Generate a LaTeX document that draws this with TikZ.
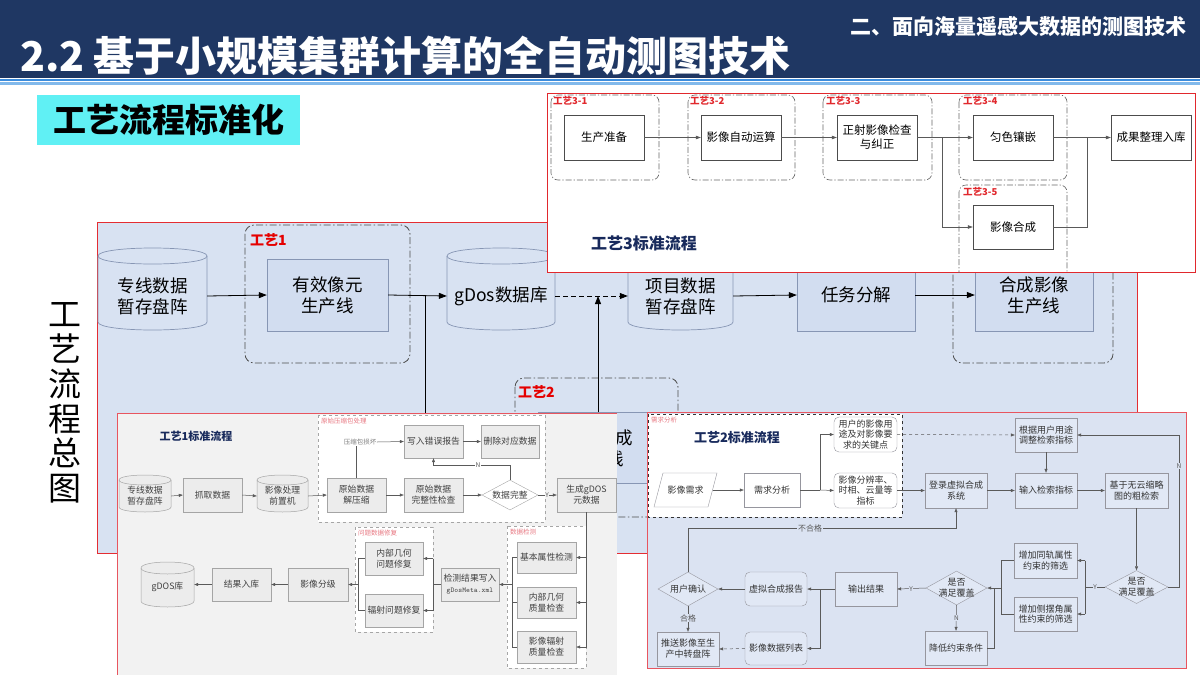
\documentclass[tikz,border=0pt]{standalone}
\usepackage{fontspec}
\setmainfont{Noto Sans CJK SC}
\usetikzlibrary{arrows.meta,shapes.geometric}
\definecolor{navy}{RGB}{31,55,99}
\definecolor{stripeA}{RGB}{60,140,220}
\definecolor{stripeB}{RGB}{130,185,235}
\definecolor{cyanbox}{RGB}{96,240,244}
\definecolor{mainbg}{RGB}{216,226,242}
\definecolor{mainred}{RGB}{228,45,50}
\definecolor{mborder}{RGB}{135,150,180}
\definecolor{mfill}{RGB}{210,221,240}
\definecolor{titnavy}{RGB}{24,42,92}
\definecolor{lbg}{RGB}{242,242,242}
\definecolor{lfill}{RGB}{236,236,236}
\definecolor{lborder}{RGB}{165,165,165}
\definecolor{pinklab}{RGB}{232,120,130}
\definecolor{rbg}{RGB}{219,227,242}
\definecolor{rfill}{RGB}{225,232,245}
\definecolor{rborder}{RGB}{150,150,158}
\definecolor{insetred}{RGB}{232,85,95}
\definecolor{topred}{RGB}{225,40,45}
\definecolor{lnk}{RGB}{90,90,90}

% cylinder: x1 ytop x2 ybottom ry style
\newcommand\mycyl[6]{%
 \pgfmathsetmacro\cylTa{#2+#5}\pgfmathsetmacro\cylTb{#4-#5}%
 \pgfmathsetmacro\cylTc{#4+#5/3}\pgfmathsetmacro\cylTd{#2-#5/3}%
 \pgfmathsetmacro\cylTe{#2+7*#5/3}%
 \path[#6] (#1,\cylTa) -- (#1,\cylTb) .. controls (#1,\cylTc) and (#3,\cylTc) .. (#3,\cylTb) -- (#3,\cylTa) .. controls (#3,\cylTd) and (#1,\cylTd) .. (#1,\cylTa) -- cycle;
 \draw[#6,fill=none] (#1,\cylTa) .. controls (#1,\cylTe) and (#3,\cylTe) .. (#3,\cylTa);}

\begin{document}
\begin{tikzpicture}[x=1pt,y=-1pt,
 mbox/.style={draw=mborder, fill=mfill, minimum width=121, minimum height=72, align=center, inner sep=1, font=\fontsize{17.5}{21}\selectfont},
 mtxt/.style={align=center, inner sep=0, font=\fontsize{17.5}{21}\selectfont},
 mcyl/.style={draw=mborder, fill=mainbg, line width=0.7pt},
 grp/.style={draw=black!70, dash pattern=on 7pt off 2.5pt on 1.5pt off 2.5pt, rounded corners=9pt, line width=0.8pt},
 glab/.style={text=red!90!black, font=\bfseries\fontsize{14}{14}\selectfont, anchor=west, inner sep=0},
 marr/.style={-{Triangle[length=8pt,width=6pt]}, line width=0.8pt},
 mline/.style={line width=0.8pt},
 tbox/.style={draw=gray!60!black, fill=white, minimum width=80, minimum height=45, align=center, inner sep=1, font=\fontsize{11.5}{14}\selectfont},
 tgrp/.style={draw=gray!80!black, dash pattern=on 6pt off 2pt on 1.2pt off 2pt, rounded corners=7pt, line width=0.6pt},
 tlab/.style={text=topred, font=\bfseries\fontsize{9.5}{10}\selectfont, anchor=west, inner sep=0},
 tarr/.style={-{Triangle[length=5pt,width=3.5pt]}, draw=gray!70!black, line width=0.6pt},
 tline/.style={draw=gray!70!black, line width=0.6pt},
 lbox/.style={draw=lborder, fill=lfill, minimum width=59, minimum height=34, align=center, inner sep=0.5, font=\fontsize{8.8}{11}\selectfont, text=black!75},
 ltxt/.style={align=center, inner sep=0, font=\fontsize{8.8}{11}\selectfont, text=black!75},
 lcyl/.style={draw=lborder, fill=lfill, line width=0.5pt},
 lgrp/.style={draw=gray!70, dashed, fill=white, line width=0.6pt},
 llab/.style={text=pinklab, font=\fontsize{6.5}{7}\selectfont, anchor=west, inner sep=0},
 larr/.style={-{Triangle[length=4pt,width=3pt]}, draw=lnk, line width=0.5pt},
 lline/.style={draw=lnk, line width=0.5pt},
 rbox/.style={draw=rborder, fill=rfill, minimum width=62, minimum height=34, align=center, inner sep=0.5, font=\fontsize{9}{10.8}\selectfont, text=black!80},
 rround/.style={rbox, rounded corners=5pt},
 rtxt/.style={align=center, inner sep=0, font=\fontsize{9}{10.8}\selectfont, text=black!80},
 rarr/.style={-{Triangle[length=4pt,width=3pt]}, draw=lnk, line width=0.5pt},
 rline/.style={draw=lnk, line width=0.5pt},
 ylab/.style={font=\fontsize{6.5}{7}\selectfont, text=lnk, fill=rbg, inner sep=0.6pt},
 navytitle/.style={text=titnavy, font=\bfseries#1, inner sep=0}
]
\useasboundingbox (0,0) rectangle (1200,675);
\fill[white] (0,0) rectangle (1200,675);

% ---------- title bar ----------
\fill[navy] (0,0) rectangle (1200,78);
\fill[stripeA] (0,78.5) rectangle (1200,80.5);
\fill[stripeB] (0,82) rectangle (1200,84.5);
\node[anchor=base west, text=white, inner sep=0, font=\bfseries\fontsize{41}{42}\selectfont] (title) at (20,71) {2.2 基于小规模集群计算的全自动测图技术};
\node[anchor=east, text=white, inner sep=0, font=\bfseries\fontsize{21}{22}\selectfont] (sub) at (1187,27) {二、面向海量遥感大数据的测图技术};

\node[fill=cyanbox, minimum width=263, minimum height=50, inner sep=0, font=\bfseries\fontsize{33}{34}\selectfont] (std) at (168.5,120) {工艺流程标准化};

\node[align=center, inner sep=0, font=\fontsize{33}{34.8}\selectfont] (vt) at (65,403) {工\\艺\\流\\程\\总\\图};

% ---------- main overview ----------
\draw[mainred, fill=mainbg, line width=0.8pt] (97,222) rectangle (1137,553);
\draw[grp] (245,225) rectangle (410,363);
\node[glab] (g1l) at (250,240) {工艺1};
\draw[grp] (515,378) rectangle (678,517);
\node[glab] (g2l) at (518,392) {工艺2};
\draw[grp] (953,225) rectangle (1113,363);

\mycyl{98}{248}{207}{330}{8}{mcyl}
\node[mtxt, minimum width=109, minimum height=66] (cA) at (152.5,296) {专线数据\\暂存盘阵};
\mycyl{447}{248}{555}{330}{8}{mcyl}
\node[mtxt, minimum width=108, minimum height=66] (cB) at (501,296) {gDos数据库};
\mycyl{628}{248}{733}{330}{8}{mcyl}
\node[mtxt, minimum width=105, minimum height=66] (cC) at (680.5,296) {项目数据\\暂存盘阵};
\node[mbox] (pA) at (327.5,295) {有效像元\\生产线};
\node[mbox, minimum width=118] (pC) at (856,295) {任务分解};
\node[mbox, minimum width=118] (pD) at (1034,295) {合成影像\\生产线};
\node[mbox, minimum width=120, minimum height=71] (pB) at (598,448) {影像合成\\生产线};

\coordinate (j1) at (425,295);
\coordinate (jd1) at (425,420);
\draw[marr] (cA.east) -- (pA.west);
\draw[marr] (pA.east) -- (cB.west);
\draw[mline] (j1) -- (jd1);
\draw[marr, dash pattern=on 5pt off 3pt] (cB.east) -- (cC.west);
\draw[marr] (pB.north) -- (pB.north |- cB.east);
\draw[marr] (cC.east) -- (pC.west);
\draw[marr] (pC.east) -- (pD.west);

% ---------- inset: process 3 ----------
\draw[topred, fill=white, line width=1pt] (547,93) rectangle (1195,272);
\begin{scope}
\clip (547,93) rectangle (1195,272);
\draw[tgrp] (551,95) rectangle (659,180);
\draw[tgrp] (688,95) rectangle (795,180);
\draw[tgrp] (823,95) rectangle (932,180);
\draw[tgrp] (959,95) rectangle (1067,180);
\draw[tgrp] (959,185) rectangle (1067,280);
\end{scope}
\node[tlab] (t1l) at (553,101) {工艺3-1};
\node[tlab] (t2l) at (690,101) {工艺3-2};
\node[tlab] (t3l) at (826,101) {工艺3-3};
\node[tlab] (t4l) at (963,101) {工艺3-4};
\node[tlab] (t5l) at (963,192) {工艺3-5};
\node[tbox] (s1) at (604,137.5) {生产准备};
\node[tbox] (s2) at (741,137.5) {影像自动运算};
\node[tbox] (s3) at (877,137.5) {正射影像检查\\与纠正};
\node[tbox] (s4) at (1013,137.5) {匀色镶嵌};
\node[tbox] (s5) at (1151,137.5) {成果整理入库};
\node[tbox, minimum height=44] (s6) at (1013,227) {影像合成};
\coordinate (tx1) at (942,0);
\coordinate (tx2) at (1087,0);
\draw[tarr] (s1.east) -- (s2.west);
\draw[tarr] (s2.east) -- (s3.west);
\draw[tarr] (s3.east) -- (s4.west);
\draw[tarr] (s3.east -| tx1) |- (s6.west);
\draw[tarr] (s4.east) -- (s5.west);
\draw[tline] (s6.east) -| (s5.west -| tx2);
\node[navytitle=\fontsize{16}{16}\selectfont] (t3t) at (644,243) {工艺3标准流程};

% ---------- inset: process 1 ----------
\fill[lbg] (117,413) rectangle (617,675);
\draw[insetred, line width=0.8pt] (117,675) -- (117,413) -- (617,413);
\node[navytitle=\fontsize{11}{11}\selectfont] (t1t) at (196,436) {工艺1标准流程};
\draw[lgrp] (318,415) rectangle (545,522);
\node[llab] (lg1) at (321,421) {原始压缩包处理};
\draw[lgrp] (507,526) rectangle (586,668);
\node[llab] (lg2) at (510,532) {数据检测};
\draw[lgrp] (355,527) rectangle (433,632);
\node[llab] (lg3) at (358,533) {问题数据修复};

\mycyl{119}{475}{171}{512}{5}{lcyl}
\node[ltxt, minimum width=52, minimum height=30] (lc1) at (145,496) {专线数据\\暂存盘阵};
\node[lbox] (l1) at (212.5,495) {抓取数据};
\mycyl{257}{475}{308}{512}{5}{lcyl}
\node[ltxt, minimum width=51, minimum height=30] (lc2) at (282.5,496) {影像处理\\前置机};
\node[lbox] (l2) at (356.5,495) {原始数据\\解压缩};
\node[lbox] (l3) at (433.5,495) {原始数据\\完整性检查};
\node[diamond, draw=lborder, fill=white, inner sep=0, minimum width=56, minimum height=30] (ld) at (510,495) {};
\node[ltxt] (ldt) at (ld) {数据完整};
\node[lbox, minimum height=33] (l4) at (433.5,441.5) {写入错误报告};
\node[lbox, minimum height=33, minimum width=58] (l5) at (510,441.5) {删除对应数据};
\node[inner sep=0.5, text=gray, font=\fontsize{6.5}{7}\selectfont] (lt) at (360,442) {压缩包损坏};
\node[lbox] (l6) at (586.5,495) {生成gDOS\\元数据};
\node[lbox, minimum height=31] (l7) at (546.5,557.5) {基本属性检测};
\node[lbox, minimum height=31] (l8) at (546.5,602.5) {内部几何\\质量检查};
\node[lbox, minimum height=32] (l9) at (546.5,647) {影像辐射\\质量检查};
\node[lbox, minimum width=58, minimum height=33] (l10) at (470,584.5) {检测结果写入\\{\ttfamily\fontsize{7.3}{9}\selectfont gDosMeta.xml}};
\node[lbox, minimum width=58, minimum height=33] (l11) at (394,558.5) {内部几何\\问题修复};
\node[lbox, minimum width=58, minimum height=33] (l12) at (394,610.5) {辐射问题修复};
\node[lbox, minimum width=60, minimum height=33] (l13) at (318,584.5) {影像分级};
\node[lbox, minimum height=33] (l14) at (241.5,584.5) {结果入库};
\mycyl{141}{562}{194}{607}{6}{lcyl}
\node[ltxt, minimum width=53, minimum height=34] (lc3) at (167.5,587) {gDOS库};

\draw[larr] (lc1.east) -- (l1.west);
\draw[larr] (l1.east) -- (lc2.west);
\draw[larr] (lc2.east) -- (l2.west);
\draw[larr] (l2.east) -- (l3.west);
\draw[larr] (l3.east) -- (ld.west);
\draw[larr] (l4.east) -- (l5.west);
\draw[lline] (l2.north) -- (l2.north |- lt.south);
\draw[larr] (lt.east) -- (l4.west);
\draw[larr] (ld.north) -- ++(0,-15) -| (l4.south);
\node[ylab, fill=white] (ln1) at (478,465) {N};
\draw[larr] (ld.east) -- (l6.west);
\node[ylab, fill=lbg] (ly1) at (547,495) {Y};
\draw[lline] (l6.south) -- (l6.south |- l9.east);
\draw[larr] (l6.south |- l7.east) -- (l7.east);
\draw[larr] (l6.south |- l8.east) -- (l8.east);
\draw[larr] (l6.south |- l9.east) -- (l9.east);
\coordinate (lx1) at (512,0);
\coordinate (lx2) at (433,0);
\coordinate (lx3) at (358,0);
\draw[lline] (l7.west) -- (l7.west -| lx1) -- (l9.west -| lx1) -- (l9.west);
\draw[lline] (l8.west) -- (l8.west -| lx1);
\draw[larr] (l10.east -| lx1) -- (l10.east);
\draw[lline] (l10.west) -- (l10.west -| lx2);
\draw[lline] (l11.east -| lx2) -- (l12.east -| lx2);
\draw[larr] (l11.east -| lx2) -- (l11.east);
\draw[larr] (l12.east -| lx2) -- (l12.east);
\draw[lline] (l11.west) -- (l11.west -| lx3) -- (l12.west -| lx3) -- (l12.west);
\draw[larr] (l13.east -| lx3) -- (l13.east);
\draw[larr] (l13.west) -- (l14.east);
\draw[larr] (l14.west) -- (lc3.east |- l14.west);

% ---------- inset: process 2 ----------
\draw[insetred, fill=rbg, line width=0.8pt] (647,412) rectangle (1186,668);
\draw[lgrp, draw=gray!40!black] (648,414) rectangle (902,517);
\node[llab] (rg1) at (651,420) {需求分析};
\node[navytitle=\fontsize{13}{13}\selectfont] (t2t) at (737,438) {工艺2标准流程};

\draw[draw=rborder, fill=white] (663,473) -- (717,473) -- (708,507) -- (654,507) -- cycle;
\node[rtxt, minimum width=54, minimum height=34] (r1) at (685.5,490) {影像需求};
\node[rbox, minimum width=56, fill=white] (r2) at (772,490) {需求分析};
\node[rround, minimum width=63, minimum height=35, fill=white] (r3) at (865.5,434.5) {用户的影像用\\途及对影像要\\求的关键点};
\node[rround, minimum width=63, minimum height=35, fill=white] (r4) at (865.5,490.5) {影像分辨率、\\时相、云量等\\指标};
\node[rbox] (r5) at (1046,435) {根据用户用途\\调整检索指标};
\node[rbox, minimum height=35] (r6) at (956,490.5) {登录虚拟合成\\系统};
\node[rbox, minimum height=35] (r7) at (1046,490.5) {输入检索指标};
\node[rbox, minimum width=63, minimum height=35] (r8) at (1136.5,490.5) {基于无云缩略\\图的粗检索};
\node[diamond, draw=rborder, fill=rfill, inner sep=0, minimum width=63, minimum height=33] (rd1) at (1136.5,587) {};
\node[rtxt] (rd1t) at (rd1) {是否\\满足覆盖};
\node[rbox, minimum width=63, minimum height=35] (r9) at (1045.5,560.5) {增加同轨属性\\约束的筛选};
\node[rbox, minimum width=63, minimum height=34] (r10) at (1045.5,614) {增加侧摆角属\\性约束的筛选};
\node[diamond, draw=rborder, fill=rfill, inner sep=0, minimum width=61, minimum height=34] (rd2) at (956.5,588) {};
\node[rtxt] (rd2t) at (rd2) {是否\\满足覆盖};
\node[rbox] (r11) at (956,648) {降低约束条件};
\node[rbox] (r12) at (866,589) {输出结果};
\node[rround] (r13) at (776,589) {虚拟合成报告};
\node[rround, minimum height=33] (r14) at (776,648.5) {影像数据列表};
\node[diamond, draw=rborder, fill=rfill, inner sep=0, minimum width=60, minimum height=34] (rd3) at (688,589) {};
\node[rtxt] (rd3t) at (rd3) {用户确认};
\node[rbox, minimum height=34] (r15) at (688,649) {推送影像至生\\产中转盘阵};

\coordinate (rx1) at (820,0);
\coordinate (rx2) at (1179,0);
\coordinate (rx3) at (1085,0);
\coordinate (rx4) at (1001,0);
\coordinate (rx5) at (994,0);
\coordinate (ry1) at (0,528);
\draw[rarr] (r1.east) -- (r2.west);
\draw[rline] (r2.east) -- (r2.east -| rx1);
\draw[rarr] (r2.east -| rx1) |- (r3.west);
\draw[rarr] (r2.east -| rx1) -- (r4.west);
\draw[rarr, dashed] (r3.east) -- (r5.west);
\draw[rarr] (r4.east) -- (r6.west);
\draw[rarr] (r6.east) -- (r7.west);
\draw[rarr] (r5.south) -- (r7.north);
\draw[rarr] (r7.east) -- (r8.west);
\draw[rarr] (r8.south) -- (rd1.north);
\draw[rarr] (rd1.east) -- (rd1.east -| rx2) |- (r5.east);
\node[ylab] (rn1) at (1179,466) {N};
\draw[rline] (rd1.west) -- (rd1.west -| rx3);
\node[ylab] (ry1l) at (1095,587) {Y};
\draw[rline] (r9.east -| rx3) -- (r10.east -| rx3);
\draw[rarr] (r9.east -| rx3) -- (r9.east);
\draw[rarr] (r10.east -| rx3) -- (r10.east);
\draw[rline] (r9.west) -- (r9.west -| rx4) -- (r10.west -| rx4) -- (r10.west);
\draw[rarr] (rd2.east -| rx4) -- (rd2.east);
\draw[rline] (r11.east) -- (r11.east -| rx5) -- (rd2.east -| rx5);
\draw[rarr] (rd2.south) -- (r11.north);
\node[ylab] (rn2) at (956.5,618) {N};
\draw[rarr] (rd2.west) -- (r12.east);
\node[ylab] (ry2l) at (911,589) {Y};
\draw[rarr] (r12.west) -- (r13.east);
\draw[rarr] (r12.west -| rx1) |- (r14.east);
\draw[rarr] (r13.west) -- (rd3.east);
\draw[rarr] (rd3.north) |- (r6.south |- ry1) -- (r6.south);
\node[ylab, font=\fontsize{8}{9}\selectfont] (rbad) at (810,528) {不合格};
\draw[rarr] (rd3.south) -- (r15.north);
\node[ylab, font=\fontsize{8}{9}\selectfont] (rgood) at (688,618) {合格};
\draw[rarr, dashed] (r14.west) -- (r15.east);
\end{tikzpicture}
\end{document}
